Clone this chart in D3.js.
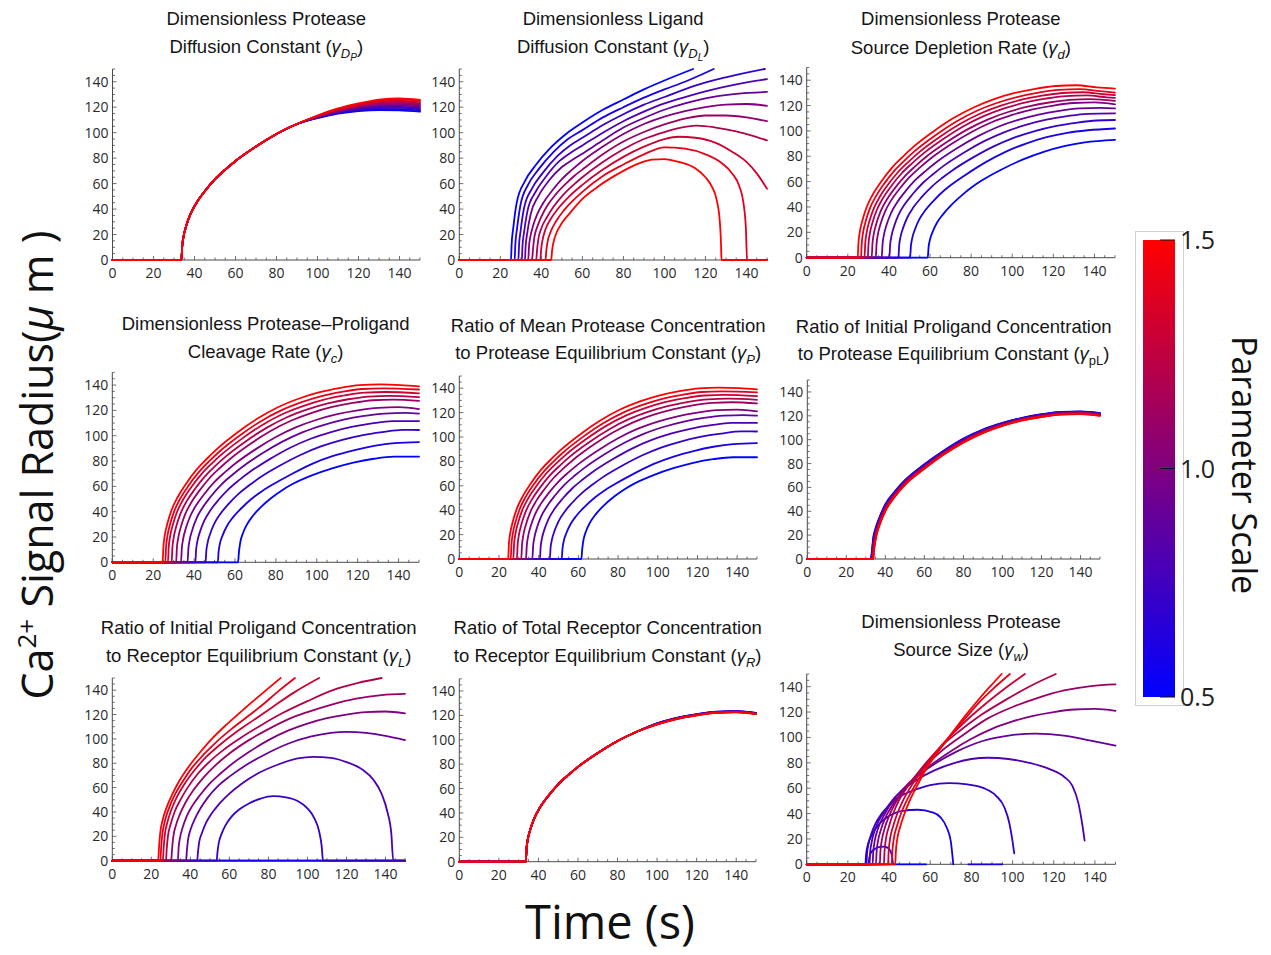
<!DOCTYPE html>
<html><head><meta charset="utf-8">
<script src="https://cdn.jsdelivr.net/npm/d3@7"></script>
<style>
body{margin:0;background:#fff}
svg{display:block}
.ptitle{font-family:"Liberation Sans",Arial,sans-serif;font-size:18.5px;fill:#151515}
.tick{font-family:"Open Sans","Noto Sans",sans-serif;font-size:14px;fill:#2a2a2a}
</style>
</head><body>
<svg id="chart" width="1271" height="955"></svg>
<script>
// ---------------- data ----------------
const params = [0.5,0.6,0.7,0.8,0.9,1.0,1.1,1.2,1.3,1.4,1.5];
const xTicks = [0,20,40,60,80,100,120,140];
const yTicks = [0,20,40,60,80,100,120,140];
const colorbarTicks = [0.5,1.0,1.5];

const titleLines1 = ["Dimensionless Protease","Dimensionless Ligand","Dimensionless Protease",
  "Dimensionless Protease\u2013Proligand","Ratio of Mean Protease Concentration","Ratio of Initial Proligand Concentration",
  "Ratio of Initial Proligand Concentration","Ratio of Total Receptor Concentration","Dimensionless Protease"];
const titleLines2 = ["Diffusion Constant","Diffusion Constant","Source Depletion Rate","Cleavage Rate",
  "to Protease Equilibrium Constant","to Protease Equilibrium Constant","to Receptor Equilibrium Constant",
  "to Receptor Equilibrium Constant","Source Size"];
const symbolSubs = [["D","P"],["D","L"],["d"],["c"],["P"],["pL"],["L"],["R"],["w"]];

// reference curve (parameter scale 1.0), time (s) -> radius (um)
const baseline = [[0,0],[33.6,0],[34,11],[34.6,18],[36,27],[38,36],[41,45],[45,54],[50,63.5],[55,71],[60,77.8],[70,89.2],[80,99],[90,106.8],[100,112.6],[110,117],[120,120],[130,122],[140,122.5],[150,121]];

// Panel 1: protease diffusion (curves coincide until ~90 s)
const tailTimes = [100,110,120,130,140,150];
const dpTails = [
 [111.5,115,117,117.8,117.5,116.5],[111.7,115.4,117.6,118.6,118.5,117.5],[111.9,115.8,118.2,119.4,119.5,118.4],
 [112.1,116.2,118.8,120.2,120.5,119.3],[112.3,116.6,119.4,121.1,121.5,120.2],[112.6,117,120,122,122.5,121],
 [112.7,117.4,120.6,122.8,123.4,122],[112.9,117.8,121.2,123.6,124.3,123],[113.1,118.2,121.8,124.4,125.2,124],
 [113.3,118.6,122.4,125.2,126.1,124.9],[113.5,119,123,126,127,125.8]];

// Panel 2: ligand diffusion
const dlCurves = [
 [[0,0],[25.2,0],[25.5,12],[26.3,25],[28,45],[32,62],[37,74],[45,89],[52,99],[60,108],[70,118],[80,126],[90,134],[100,141],[114,150]],
 [[0,0],[27,0],[27.3,12],[28.1,24],[29.8,43],[33.5,59],[38.5,71],[46,85],[53,95],[60,102],[70,112],[80,120],[90,127.5],[100,134],[110,140],[124,150]],
 [[0,0],[28.8,0],[29.1,11],[29.9,23],[31.6,41],[35.4,56],[40.5,68],[48,82],[54,90],[60,96],[70,106],[80,114.5],[90,122],[100,128],[115,137],[130,143.5],[149,150]],
 [[0,0],[30.5,0],[30.8,11],[31.6,22],[33.3,39],[37,53],[42,65],[49,78],[55,85],[60,90],[70,100],[80,109],[90,116.5],[100,123],[110,128],[120,132.5],[135,138],[150,142]],
 [[0,0],[32,0],[32.3,10],[33.1,21],[34.8,36],[38.5,50],[43.5,62],[50,73],[55,78.5],[60,83.5],[70,94],[80,104],[90,111.5],[100,118],[110,123],[120,127],[135,130.5],[150,132]],
 baseline,
 [[0,0],[35.5,0],[35.9,8],[36.5,17],[38,26],[40,34],[43,43],[47,51.5],[52,60],[56,66],[60,71],[70,83],[80,93],[90,100.5],[100,106.5],[110,111],[120,113.5],[130,113.5],[140,112],[150,109]],
 [[0,0],[37.5,0],[37.9,8],[38.5,16],[40,25],[42.5,33],[46,42],[50,50],[55,58],[60,65],[70,77],[80,87],[90,95],[100,100.5],[110,104.5],[116,105.5],[125,104],[135,101],[145,96.5],[150,94]],
 [[0,0],[39.5,0],[39.9,8],[40.5,15],[42,24],[44.5,32],[48,40],[53,49],[60,59],[70,71],[80,81],[90,89],[100,95],[107,96.8],[115,96],[125,92],[133,85],[140,77],[145,68],[150,56]],
 [[0,0],[42,0],[42.4,7],[43,14],[44.5,22],[47,30],[51,39],[55,46],[60,53.5],[70,66],[80,75],[90,83],[100,88.5],[110,87.5],[120,83],[128,76],[133,68],[136.5,58],[138.5,45],[139.7,25],[140.3,0],[150,0]],
 [[0,0],[44.8,0],[45.2,7],[45.8,13],[47.3,21],[50,29],[54,37],[60,48],[67,57],[74,64.5],[80,70],[87,75.5],[94,78.8],[100,79.3],[107,77],[115,72],[120,65],[123,58],[125.5,47],[127,30],[127.6,12],[127.8,0],[150,0]]
];

// Panel 3: source depletion rate
const sdCurves = [
 [[0,0],[58.9,0],[59.3,8.4],[59.9,13.7],[61.3,20.5],[63.3,27.4],[66.3,34.2],[70.3,41.5],[75.3,49],[80.3,55.5],[85.3,61],[95.3,70],[105.3,77.5],[115.3,83.5],[125.3,88],[135.3,91],[150,93]],
 [[0,0],[50.3,0],[50.7,9.2],[51.3,15],[52.7,22.5],[54.7,30],[57.7,37.4],[61.7,44.9],[66.7,52.8],[71.7,59.1],[76.7,64.7],[86.7,75],[96.7,83.5],[106.7,90],[116.7,95],[126.7,98.5],[136.7,100.5],[150,101.9]],
 [[0,0],[44.6,0],[45,9.8],[45.6,16],[47,23.9],[49,31.9],[52,39.9],[56,47.9],[61,56.3],[66,63],[71,69],[81,79.1],[91,87.8],[101,94.7],[111,99.9],[121,103.8],[131,106.4],[141,108.2],[150,108.6]],
 [[0,0],[40.2,0],[40.6,10.2],[41.2,16.7],[42.6,25.1],[44.6,33.5],[47.6,41.9],[51.6,50.2],[56.6,59.1],[61.6,66],[66.6,72.4],[76.6,83],[86.6,92.1],[96.6,99.3],[106.6,104.7],[116.6,108.8],[126.6,111.6],[136.6,113.5],[150,113.9]],
 [[0,0],[36.5,0],[36.9,10.6],[37.5,17.4],[38.9,26.1],[40.9,34.7],[43.9,43.4],[47.9,52.1],[52.9,61.3],[57.9,68.5],[62.9,75.1],[72.9,86.1],[82.9,95.5],[92.9,103.1],[102.9,108.7],[112.9,112.9],[122.9,115.8],[132.9,117.7],[142.9,118.2],[150,117.7]],
 baseline,
 [[0,0],[31.6,0],[32,11.2],[32.6,18.4],[34,27.5],[36,36.7],[39,45.9],[43,55.1],[48,64.8],[53,72.4],[58,79.4],[68,91],[78,101],[88,108.9],[98,114.9],[108,119.3],[118,122.4],[128,124.4],[138,125],[150,123.7]],
 [[0,0],[29.7,0],[30.1,11.5],[30.7,18.8],[32.1,28.2],[34.1,37.6],[37.1,47],[41.1,56.4],[46.1,66.4],[51.1,74.2],[56.1,81.3],[66.1,93.2],[76.1,103.5],[86.1,111.6],[96.1,117.7],[106.1,122.3],[116.1,125.4],[126.1,127.5],[136.1,128],[146.1,126.4],[150,126]],
 [[0,0],[28.1,0],[28.5,11.7],[29.1,19.2],[30.5,28.8],[32.5,38.3],[35.5,47.9],[39.5,57.5],[44.5,67.6],[49.5,75.6],[54.5,82.9],[64.5,95],[74.5,105.4],[84.5,113.7],[94.5,119.9],[104.5,124.6],[114.5,127.8],[124.5,129.9],[134.5,130.5],[144.5,128.9],[150,128.2]],
 [[0,0],[26.4,0],[26.8,11.9],[27.4,19.5],[28.8,29.3],[30.8,39.1],[33.8,48.8],[37.8,58.6],[42.8,68.9],[47.8,77],[52.8,84.4],[62.8,96.8],[72.8,107.4],[82.8,115.9],[92.8,122.2],[102.8,126.9],[112.8,130.2],[122.8,132.4],[132.8,132.9],[142.8,131.3],[150,130.2]],
 [[0,0],[24.8,0],[25.2,12.2],[25.8,20],[27.2,30],[29.2,40],[32.2,50],[36.2,59.9],[41.2,70.5],[46.2,78.8],[51.2,86.4],[61.2,99],[71.2,109.9],[81.2,118.5],[91.2,125],[101.2,129.9],[111.2,133.2],[121.2,135.4],[131.2,136],[141.2,134.3],[150,133.4]]
];

// Panel 4: protease-proligand cleavage rate
const clCurves = [
 [[0,0],[61.5,0],[61.9,7.5],[62.5,15],[63.9,23],[65.9,30],[68.9,37],[72.9,44],[77.9,51],[82.9,56.8],[87.9,61.6],[97.9,68.8],[107.9,74.4],[117.9,78.8],[127.9,81.8],[137.9,83.4],[150,83.4]],
 [[0,0],[51.6,0],[52,8.6],[52.6,14.5],[54,21.5],[56,28.5],[59,35.5],[63,42.5],[68,50],[73,56],[78,61],[88,70],[98,78],[108,84],[118,88.5],[128,92],[138,94.2],[150,95]],
 [[0,0],[45.6,0],[46,9.4],[46.6,15.4],[48,23.1],[50,30.9],[53,38.6],[57,46.3],[62,54.4],[67,60.8],[72,66.7],[82,76.4],[92,84.8],[102,91.5],[112,96.5],[122,100.3],[132,102.8],[142,104.6],[150,104.5]],
 [[0,0],[40.6,0],[41,10.1],[41.6,16.5],[43,24.7],[45,32.9],[48,41.1],[52,49.4],[57,58],[62,64.9],[67,71.1],[77,81.5],[87,90.5],[97,97.6],[107,102.9],[117,106.9],[127,109.7],[137,111.5],[150,111.5]],
 [[0,0],[36.8,0],[37.2,10.6],[37.8,17.3],[39.2,26],[41.2,34.7],[44.2,43.3],[48.2,52],[53.2,61.2],[58.2,68.4],[63.2,74.9],[73.2,85.9],[83.2,95.3],[93.2,102.8],[103.2,108.4],[113.2,112.7],[123.2,115.6],[133.2,117.5],[143.2,118],[150,117.5]],
 baseline,
 [[0,0],[31.2,0],[31.6,11.5],[32.2,18.9],[33.6,28.3],[35.6,37.8],[38.6,47.2],[42.6,56.6],[47.6,66.6],[52.6,74.5],[57.6,81.6],[67.6,93.6],[77.6,103.9],[87.6,112],[97.6,118.1],[107.6,122.7],[117.6,125.9],[127.6,128],[137.6,128.5],[150,127.5]],
 [[0,0],[29,0],[29.4,11.8],[30,19.3],[31.4,29],[33.4,38.6],[36.4,48.3],[40.4,57.9],[45.4,68.1],[50.4,76.2],[55.4,83.5],[65.4,95.7],[75.4,106.2],[85.4,114.6],[95.4,120.8],[105.4,125.5],[115.4,128.8],[125.4,130.9],[135.4,131.4],[150,130.5]],
 [[0,0],[27.2,0],[27.6,12.1],[28.2,19.8],[29.6,29.6],[31.6,39.5],[34.6,49.4],[38.6,59.3],[43.6,69.7],[48.6,78],[53.6,85.4],[63.6,97.9],[73.6,108.7],[83.6,117.3],[93.6,123.6],[103.6,128.5],[113.6,131.8],[123.6,134],[133.6,134.5],[150,133.5]],
 [[0,0],[25.9,0],[26.3,12.3],[26.9,20.2],[28.3,30.3],[30.3,40.4],[33.3,50.5],[37.3,60.6],[42.3,71.2],[47.3,79.7],[52.3,87.3],[62.3,100.1],[72.3,111.1],[82.3,119.8],[92.3,126.3],[102.3,131.3],[112.3,134.6],[122.3,136.9],[132.3,137.4],[150,136.5]],
 [[0,0],[24.6,0],[25,12.6],[25.6,20.6],[27,31],[29,41.3],[32,51.6],[36,61.9],[41,72.8],[46,81.4],[51,89.2],[61,102.3],[71,113.5],[81,122.5],[91,129.2],[101,134.2],[111,137.6],[121,139.9],[131,140.5],[141,140],[150,139]]
];

// Panel 5: mean protease / protease equilibrium constant (read identical to panel 4)
const mpCurves = clCurves;

// Panel 6: initial proligand / protease equilibrium constant
const pLOnsets = [32.4,32.55,32.7,32.85,33,33.15,33.3,33.45,33.6,33.75,33.9];
const pLTimes = [34,35,37,40,45,50,60,70,80,90,100,110,120,130,140,150];
const pLValues = [
 [20,26,35,46,57,66,79.5,91,101,108.5,114,118.3,121.3,123.3,123.6,122.3],
 [18.5,25,34.3,45.4,56.5,65.6,79,90.6,100.6,108.2,113.8,118.1,121.1,123.1,123.4,122.1],
 [17,24,33.6,44.8,56,65.2,78.6,90.2,100.2,107.9,113.5,117.9,120.8,122.9,123.2,121.8],
 [15.5,23,33,44.2,55.6,64.8,78.2,89.8,99.8,107.6,113.3,117.6,120.6,122.6,123,121.6],
 [14,22,32.3,43.6,55.1,64.4,77.8,89.4,99.4,107.3,113,117.4,120.4,122.4,122.8,121.4],
 [12,21,31.5,43,54.6,64,77.4,89,99,107,112.8,117.2,120.2,122.2,122.6,121.2],
 [10,20,30.8,42.4,54.2,63.6,77,88.7,98.7,106.7,112.5,117,120,121.9,122.4,120.9],
 [8.5,19,30.1,41.8,53.8,63.2,76.6,88.4,98.4,106.4,112.3,116.8,119.7,121.7,122.2,120.7],
 [7,18,29.4,41.2,53.4,62.8,76.2,88.1,98.1,106.1,112,116.5,119.5,121.5,122,120.5],
 [5,17,28.7,40.6,52.9,62.4,75.8,87.8,97.8,105.8,111.8,116.3,119.2,121.2,121.7,120.2],
 [3,16,28,40,52.5,62,75.5,87.5,97.5,105.5,111.5,116,119,121,121.5,120]
];

// Panel 7: initial proligand / receptor equilibrium constant
const plrCurves = [
 [[0,0],[150,0]],
 [[0,0],[150,0]],
 [[0,0],[53.5,0],[53.9,7],[54.5,14],[56,22],[58,29],[61,36],[65,42],[70,47],[76,51],[82.5,53],[89,52],[95,49],[100,43],[103.5,35],[106,24],[107.3,12],[108,0],[150,0]],
 [[0,0],[43.5,0],[43.9,7],[44.5,15],[46,23],[48,31],[51,39],[55,47],[60,55],[67,64],[75,72],[85,79],[95,84],[103,85.3],[112,84.5],[120,81],[128,75],[134,66],[138,55],[141,40],[143,22],[144,0],[150,0]],
 [[0,0],[37.8,0],[38.2,8],[38.8,17],[40.2,26],[42.2,34],[45.2,43],[49,52],[54,61],[60,69],[68,78],[78,87],[90,96],[102,102],[112,105],[120,105.8],[130,105],[140,102.5],[150,99]],
 baseline,
 [[0,0],[30.2,0],[30.6,9],[31.2,19],[32.6,29],[34.6,38],[37.6,48],[41.6,58],[46.6,68],[52,77],[60,88],[70,99],[80,108],[90,116],[100,122],[112,128],[125,133],[138,136],[150,137]],
 [[0,0],[27.5,0],[27.9,10],[28.5,20],[29.9,30],[31.9,40],[34.9,50],[38.6,60],[43.6,71],[49.6,81],[57,91],[65,100],[75,110],[87,121],[100,131],[113,140],[126,146],[138,150]],
 [[0,0],[25.9,0],[26.3,10],[26.9,21],[28.3,32],[30.3,42],[33.3,53],[37,63],[42,74],[48,85],[55,95],[63,105],[72,115],[82,126],[93,138],[106,150]],
 [[0,0],[24.6,0],[25,10],[25.6,21],[27,33],[29,43],[32,54],[35.7,64],[40.7,76],[46.7,87],[53,97],[61,108],[69,118],[77,128],[85,139],[93.6,150]],
 [[0,0],[23.5,0],[23.9,10],[24.5,22],[25.9,34],[27.9,44],[30.9,55],[34.5,66],[39.5,78],[45,89],[51,100],[58,111],[65,121],[72,130.8],[79,140.3],[86.3,150]]
];

// Panel 8: total receptor / receptor equilibrium constant (curves coincide until ~90 s)
const rTails = [
 [113.5,118,121,123,123.5,122],[113.4,117.9,120.9,122.9,123.4,121.9],[113.3,117.8,120.8,122.8,123.3,121.8],
 [113.2,117.7,120.7,122.7,123.2,121.7],[113.1,117.6,120.6,122.6,123.1,121.6],[113,117.5,120.5,122.5,123,121.5],
 [112.9,117.4,120.4,122.4,122.9,121.4],[112.8,117.3,120.3,122.3,122.8,121.3],[112.7,117.2,120.2,122.2,122.7,121.2],
 [112.6,117.1,120.1,122.1,122.6,121.1],[112.6,117,120,122,122.5,121]];

// Panel 9: protease source size (null = gap in the trace)
const swCurves = [
 [[0,0],[30,0],[30.4,5],[31.2,9],[33,12],[35,13.5],[37,14],[39,13.3],[40.5,11],[41.5,6],[42,0],[58,0]],
 [[0,0],[28.5,0],[28.8,7],[29.5,14],[31,21],[33,27],[36,33],[40,38],[46,42],[54,43],[61,41],[65,37],[68,29],[70,18],[71.2,0],[72,null],[78.5,0],[95,0]],
 [[0,0],[29,0],[29.3,8],[30,16],[31.4,24],[33.4,32],[36.4,40],[40.4,47],[46,54],[53,59],[60,62.5],[69,64],[78,63],[86,60],[92,54],[96,45],[98.5,32],[100,18],[100.8,8.7]],
 [[0,0],[30.5,0],[30.8,9],[31.5,17],[32.9,26],[34.9,34],[37.9,42],[41.9,51],[47,59],[54,67],[62,74],[72,80],[80,83],[88,84],[98,83],[108,80],[118,75],[125,69],[129,62],[132,48],[134,30],[135,18.6]],
 [[0,0],[32,0],[32.3,9],[33,18],[34.4,27],[36.4,35],[39.4,44],[43.4,53],[48.4,62],[55,71],[63,80],[73,89],[85,97],[98,101.5],[111,103],[125,101.5],[138,97.5],[150,93.5]],
 baseline,
 [[0,0],[35.5,0],[35.8,10],[36.5,19],[38,29],[40,38],[43,48],[47,58],[52,68],[58,78],[66,90],[76,102],[88,115],[100,124],[112,131],[125,137],[138,140.5],[150,141.8]],
 [[0,0],[37.5,0],[37.8,10],[38.5,20],[40,30],[42,40],[44.7,50],[48.5,60],[53,70],[59,82],[66,94],[75,106],[85,118],[96,129],[108,140],[121,150]],
 [[0,0],[39.5,0],[39.8,10],[40.5,20],[42,30],[44,40],[46.7,50],[50.5,61],[55,72],[61,85],[68,98],[76,111],[85,124],[95,137],[106,150]],
 [[0,0],[41.3,0],[41.6,10],[42.3,20],[43.8,30],[45.8,40],[48.5,50],[52.5,62],[57,74],[63,88],[70,102],[77,115],[84,128],[91,139],[98.7,150]],
 [[0,0],[43,0],[43.3,10],[44,20],[45.5,30],[47.5,40],[50,50],[54,63],[58,75],[64,89],[70.4,103],[77,117],[83.3,129.5],[89,140],[94.7,150]]
];

// ---------------- assemble curve sets ----------------
const riseShared = baseline.filter(p => p[0] <= 90);
const withTails = tails => tails.map(tl => riseShared.concat(tailTimes.map((t, j) => [t, tl[j]])));
const dpCurves = withTails(dpTails);
const rCurves = withTails(rTails);
const pLCurves = pLValues.map((vals, k) => [[0,0],[pLOnsets[k],0]].concat(pLTimes.map((t, j) => [t, vals[j]])));

const curveSets = [dpCurves, dlCurves, sdCurves, clCurves, mpCurves, pLCurves, plrCurves, rCurves, swCurves];

// ---------------- layout ----------------
const layout = [
 {x0:112.5, x1:420,   y0:260,   y1:69,    t1:25,  t2:53},
 {x0:459.3, x1:767,   y0:260,   y1:69,    t1:25,  t2:53},
 {x0:806.7, x1:1115,  y0:257.7, y1:67.5,  t1:25,  t2:54},
 {x0:112.3, x1:419,   y0:562.3, y1:372.4, t1:330, t2:358},
 {x0:459.3, x1:757,   y0:559,   y1:376,   t1:332, t2:359},
 {x0:807.3, x1:1100,  y0:559,   y1:380,   t1:333, t2:360},
 {x0:112.3, x1:405,   y0:860.7, y1:678,   t1:634, t2:662},
 {x0:459.3, x1:756,   y0:861.7, y1:678.8, t1:634, t2:662},
 {x0:806.7, x1:1115.5,y0:864.3, y1:674,   t1:628, t2:656}
];

const svg = d3.select("#chart");
const color = d3.scaleLinear().domain([0.5,1.5]).range(["#0000ff","#ff0000"]).interpolate(d3.interpolateRgb);
const axisColor = "#4a4a4a";

curveSets.forEach((curves, i) => {
  const L = layout[i];
  const x = d3.scaleLinear().domain([0,150]).range([L.x0, L.x1]);
  const y = d3.scaleLinear().domain([0,150]).range([L.y0, L.y1]);
  const g = svg.append("g");

  g.append("line").attr("x1", x(0)).attr("x2", x(150)).attr("y1", y(0)).attr("y2", y(0)).attr("stroke", axisColor);
  g.append("line").attr("x1", x(0)).attr("x2", x(0)).attr("y1", y(0)).attr("y2", y(150)).attr("stroke", axisColor);
  const minor = d3.range(0, 151, 5);
  g.selectAll(null).data(minor).enter().append("line")
    .attr("x1", d => x(d)).attr("x2", d => x(d)).attr("y1", y(0)).attr("y2", d => y(0) - (d % 20 === 0 ? 4 : 2.5))
    .attr("stroke", axisColor).attr("stroke-width", 0.8);
  g.selectAll(null).data(minor).enter().append("line")
    .attr("y1", d => y(d)).attr("y2", d => y(d)).attr("x1", x(0)).attr("x2", d => x(0) + (d % 20 === 0 ? 4 : 2.5))
    .attr("stroke", axisColor).attr("stroke-width", 0.8);
  g.selectAll(null).data(xTicks).enter().append("text").attr("class","tick")
    .attr("x", d => x(d)).attr("y", y(0) + 18).attr("text-anchor","middle").text(d => d);
  g.selectAll(null).data(yTicks).enter().append("text").attr("class","tick")
    .attr("x", x(0) - 4).attr("y", d => y(d) + 5).attr("text-anchor","end").text(d => d);

  const line = d3.line().defined(d => d[1] !== null)
    .x(d => x(d[0])).y(d => y(d[1])).curve(d3.curveMonotoneX);
  g.selectAll(null).data(curves).enter().append("path")
    .attr("d", line).attr("fill","none")
    .attr("stroke", (d, k) => color(params[k])).attr("stroke-width", 1.8)
    .attr("stroke-linejoin","round").attr("stroke-linecap","round");

  const cx = (L.x0 + L.x1) / 2;
  g.append("text").attr("class","ptitle").attr("x", cx).attr("y", L.t1).attr("text-anchor","middle").text(titleLines1[i]);
  const t = g.append("text").attr("class","ptitle").attr("x", cx).attr("y", L.t2).attr("text-anchor","middle");
  t.append("tspan").text(titleLines2[i] + " (");
  t.append("tspan").attr("font-style","italic").text("\u03b3");
  const s = symbolSubs[i];
  t.append("tspan").attr("dy", 5).attr("font-size", 13).attr("font-style", s[0] === "pL" ? "normal" : "italic").text(s[0]);
  let back = 5;
  if (s[1]) { t.append("tspan").attr("dy", 3).attr("font-size", 10).attr("font-style","italic").text(s[1]); back = 8; }
  t.append("tspan").attr("dy", -back).text(")");
});

// ---------------- colorbar ----------------
const cb = {x:1143, w:32, top:240, bottom:697};
const cbScale = d3.scaleLinear().domain([0.5,1.5]).range([cb.bottom, cb.top]);
const defs = svg.append("defs");
const grad = defs.append("linearGradient").attr("id","cbgrad").attr("x1",0).attr("y1",1).attr("x2",0).attr("y2",0);
grad.selectAll("stop").data(params).enter().append("stop")
  .attr("offset", d => (d - 0.5)).attr("stop-color", d => color(d));
svg.append("rect").attr("x",1135.5).attr("y",231.5).attr("width",48).attr("height",474)
  .attr("fill","#fff").attr("stroke","#d0d0d0");
svg.append("rect").attr("x", cb.x).attr("y", cb.top).attr("width", cb.w).attr("height", cb.bottom - cb.top)
  .attr("fill","url(#cbgrad)");
svg.selectAll(null).data(colorbarTicks).enter().append("line")
  .attr("x1", 1160).attr("x2", cb.x + cb.w).attr("y1", d => cbScale(d)).attr("y2", d => cbScale(d))
  .attr("stroke","#111").attr("stroke-width",1);
svg.selectAll(null).data(colorbarTicks).enter().append("text")
  .attr("x", 1180).attr("y", d => cbScale(d) + 9).attr("font-family","Open Sans, Noto Sans, sans-serif")
  .attr("font-size", 25).attr("fill","#222").text(d => d.toFixed(1));
svg.append("text").attr("transform","translate(1232,465) rotate(90)").attr("text-anchor","middle")
  .attr("font-family","Open Sans, Noto Sans, sans-serif").attr("font-size",34).attr("fill","#111").text("Parameter Scale");

// ---------------- global axis titles ----------------
const yl = svg.append("text").attr("transform","translate(53,465) rotate(-90)").attr("text-anchor","middle")
  .attr("font-family","Open Sans, Noto Sans, sans-serif").attr("font-size",43).attr("fill","#111");
yl.append("tspan").text("Ca");
yl.append("tspan").attr("dy",-17).attr("font-size",26).text("2+");
yl.append("tspan").attr("dy",17).text(" Signal Radius(");
yl.append("tspan").attr("font-style","italic").text("\u03bc");
yl.append("tspan").text(" m )");

svg.append("text").attr("x",610).attr("y",939).attr("text-anchor","middle")
  .attr("font-family","Open Sans, Noto Sans, sans-serif").attr("font-size",47).attr("fill","#111").text("Time (s)");
</script>
</body></html>
